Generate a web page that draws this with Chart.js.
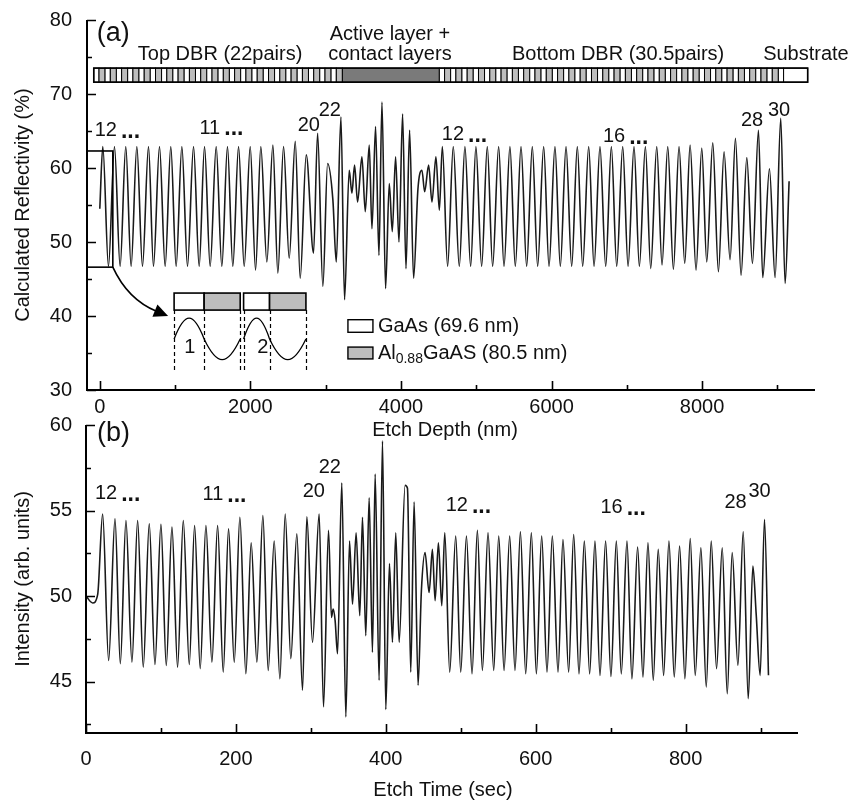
<!DOCTYPE html>
<html>
<head>
<meta charset="utf-8">
<script src="https://cdn.jsdelivr.net/npm/chart.js@4.4.0/dist/chart.umd.min.js"></script>
<style>
  html, body { margin: 0; padding: 0; background: #fff; }
  #wrap { position: relative; width: 855px; height: 801px; }
  #wrap canvas { position: absolute; left: 0; top: 0; }
</style>
</head>
<body>
<div id="wrap">
  <canvas id="reflect" width="855" height="801"></canvas>
  <canvas id="etch" width="855" height="801"></canvas>
</div>
<script>
const FONT = '"Liberation Sans", Arial, Helvetica, sans-serif';
Chart.defaults.font.family = FONT;
Chart.defaults.color = '#111';

// (a) calculated reflectivity, turning points of the fringes
const depthNm = [0, 40, 115, 195, 270, 345, 416, 492, 567, 647, 713, 793, 868, 943, 1014, 1090,
  1165, 1245, 1320, 1391, 1466, 1546, 1621, 1696, 1767, 1843, 1918, 1998, 2069, 2139, 2219,
  2299, 2365, 2441, 2516, 2596, 2662, 2742, 2839, 2893, 2963, 3026, 3096, 3141, 3203, 3251,
  3313, 3349, 3384, 3424, 3482, 3526, 3579, 3615, 3663, 3708, 3748, 3796, 3845, 3885, 3929,
  3974, 4022, 4067, 4115, 4168, 4226, 4279, 4315, 4368, 4412, 4465, 4510, 4550, 4620, 4695,
  4775, 4850, 4926, 4996, 5072, 5147, 5218, 5298, 5369, 5448, 5519, 5595, 5670, 5745, 5816,
  5896, 5967, 6046, 6117, 6193, 6268, 6343, 6414, 6494, 6565, 6644, 6720, 6795, 6866, 6946,
  7017, 7096, 7167, 7247, 7318, 7398, 7468, 7544, 7619, 7694, 7770, 7841, 7920, 7996, 8062,
  8142, 8217, 8292, 8372, 8443, 8518, 8594, 8669, 8749, 8806, 8895, 8970, 9045, 9103, 9156];
const reflectivity = [54.5, 62.9, 46.7, 62.9, 46.7, 62.9, 46.7, 62.9, 46.7, 62.9, 46.7, 62.9, 46.7, 62.9, 46.7, 62.9,
  46.7, 62.9, 46.7, 62.9, 46.7, 62.9, 46.7, 62.9, 46.7, 62.9, 46.7, 62.9, 46.2, 62.9, 47.3,
  63.1, 45.8, 62.9, 47.8, 63.6, 45.1, 61.8, 48.5, 64.7, 44.0, 60.6, 55.7, 47.3, 66.9, 42.2,
  59.7, 56.6, 60.4, 55.4, 61.5, 54.1, 63.1, 51.8, 65.6, 48.2, 68.9, 43.7, 57.9, 51.4, 61.5,
  50.0, 67.3, 46.4, 65.1, 45.1, 57.2, 59.7, 56.8, 60.4, 55.4, 61.5, 54.3, 62.9, 46.7, 62.9,
  46.7, 62.9, 46.7, 62.9, 46.7, 62.9, 46.7, 62.9, 46.7, 62.9, 46.7, 62.9, 46.7, 62.9, 46.7,
  62.9, 46.7, 62.9, 46.7, 62.9, 46.7, 62.9, 46.7, 62.9, 46.7, 62.9, 46.7, 62.9, 46.7, 62.9,
  46.7, 62.9, 46.7, 62.9, 46.4, 62.9, 46.9, 62.9, 46.3, 62.9, 47.1, 63.1, 46.2, 62.7, 47.3,
  63.4, 46.0, 62.2, 47.6, 64.0, 45.5, 61.4, 47.1, 65.1, 45.2, 59.9, 45.2, 66.7, 44.4, 58.2];

// (b) measured intensity during etching
const etchSec = [0, 8.9, 15.6, 22.2, 30.2, 38.7, 45.8, 53.3, 61.3, 68.9, 76.4, 84.4, 92.0, 100.0,
  107.1, 114.7, 122.2, 129.8, 137.8, 144.9, 152.4, 160.0, 168.0, 175.6, 183.1, 190.2, 197.8,
  205.3, 213.3, 220.4, 228.0, 236.0, 243.1, 251.1, 258.7, 265.8, 273.3, 281.3, 288.9, 294.7,
  302.2, 311.1, 316.9, 323.6, 327.5, 329.8, 332.4, 335.6, 341.3, 346.7, 351.6, 355.6, 360.4,
  365.3, 368.9, 373.3, 377.8, 382.2, 385.8, 391.1, 395.6, 400.0, 404.9, 408.9, 413.3, 417.8,
  425.8, 428.9, 433.3, 437.8, 443.1, 447.5, 452.4, 457.8, 462.2, 465.8, 470.2, 474.7, 478.7,
  485.3, 493.3, 500.0, 507.6, 515.1, 522.2, 528.9, 536.4, 544.0, 550.7, 557.8, 565.3, 572.4,
  579.6, 586.7, 594.2, 600.9, 608.0, 615.1, 622.2, 629.8, 636.4, 644.0, 650.7, 657.8, 664.9,
  672.0, 679.1, 685.8, 693.3, 700.4, 707.6, 714.2, 721.8, 728.4, 736.0, 743.1, 749.8, 756.9,
  763.5, 770.7, 777.8, 784.9, 792.0, 799.1, 806.2, 812.9, 820.4, 827.6, 834.2, 841.3, 848.9,
  855.6, 862.2, 869.8, 876.9, 883.6, 889.8, 894.2, 899.5, 905.3, 910.6];
const intensity = [50.0, 49.6, 50.1, 54.8, 46.24, 54.52, 46.05, 54.42, 46.14, 54.42, 45.85, 54.22, 46.01, 54.19,
  45.95, 54.03, 45.85, 54.42, 46.01, 54.13, 45.76, 54.13, 46.14, 54.13, 45.56, 53.93, 46.14,
  54.61, 45.46, 53.12, 46.14, 54.71, 45.66, 53.22, 45.17, 54.80, 46.34, 53.64, 44.50, 54.63,
  47.30, 54.80, 43.53, 53.84, 48.76, 49.24, 48.57, 46.63, 56.61, 42.94, 53.22, 49.53, 53.70,
  48.86, 54.61, 47.69, 55.74, 46.72, 57.13, 45.08, 59.07, 43.37, 51.90, 47.30, 53.70, 47.30,
  56.47, 56.30, 45.56, 55.50, 44.79, 50.31, 52.54, 50.21, 52.73, 49.73, 53.12, 49.44, 53.70,
  45.56, 53.51, 45.56, 53.51, 45.46, 53.84, 45.66, 53.70, 45.66, 53.51, 45.66, 53.51, 45.66,
  53.76, 45.46, 53.70, 45.46, 53.51, 45.56, 53.51, 45.56, 53.31, 45.56, 53.60, 45.46, 53.22,
  45.46, 53.22, 45.37, 53.22, 45.31, 53.22, 45.46, 53.22, 45.17, 52.87, 45.27, 53.12, 45.08,
  52.73, 45.37, 53.22, 45.27, 52.93, 45.17, 53.37, 45.37, 52.83, 44.69, 53.22, 45.76, 52.83,
  44.30, 52.54, 45.95, 53.76, 44.01, 51.76, 48.95, 45.37, 54.48, 45.37];

// tick positions; every other one carries a number
const depthTicks = [0, 1000, 2000, 3000, 4000, 5000, 6000, 7000, 8000, 9000];
const reflTicks = [30, 35, 40, 45, 50, 55, 60, 65, 70, 75, 80];
const timeTicks = [0, 100, 200, 300, 400, 500, 600, 700, 800, 900];
const intensityTicks = [42.5, 45, 47.5, 50, 52.5, 55, 57.5, 60];

// epitaxial structure (nm)
const gaAsNm = 69.6;
const alGaAsNm = 80.5;
const topDbrPairs = 22;
const bottomDbrPairs = 30.5;
const activeNm = 1288;
const substrateNm = 320;
const stackStartNm = -80;

// pair numbers written above the fringes: [text, x, y, followed by dots]
const pairTagsA = [['12', 80, 65.1, true], ['11', 1462, 65.4, true], ['20', 2777, 65.8, false],
  ['22', 3056, 67.8, false], ['12', 4691, 64.5, true], ['16', 6831, 64.2, true],
  ['28', 8664, 66.4, false], ['30', 9023, 67.8, false]];
const pairTagsB = [['12', 26.7, 55.99, true], ['11', 169.3, 55.93, true], ['20', 304, 56.1, false],
  ['22', 325.3, 57.5, false], ['12', 494.7, 55.29, true], ['16', 701.3, 55.17, true],
  ['28', 866.7, 55.47, false], ['30', 898.7, 56.1, false]];

const LINE = '#1a1a1a';
const LIGHT_GRAY = '#bdbdbd';
const DARK_GRAY = '#7a7a7a';

function text(ctx, s, x, y, size, align, weight) {
  ctx.font = (weight || 'normal') + ' ' + size + 'px ' + FONT;
  ctx.textAlign = align || 'left';
  ctx.textBaseline = 'middle';
  ctx.fillStyle = '#111';
  ctx.fillText(s, x, y);
}

// axis lines, inward ticks and the numbers under the major ones
function drawAxes(chart) {
  const {ctx, chartArea: a, scales: {x, y}} = chart;
  const ax = chart.options.axisLook;
  ctx.save();
  ctx.strokeStyle = '#000';
  ctx.lineWidth = 2;
  ctx.beginPath();
  ctx.moveTo(a.left, a.top);
  ctx.lineTo(a.left, a.bottom);
  ctx.lineTo(a.right, a.bottom);
  ctx.stroke();
  ctx.lineWidth = 1.6;
  ctx.beginPath();
  x.ticks.forEach((t, i) => {
    const px = Math.round(x.getPixelForValue(t.value)) + 0.5;
    ctx.moveTo(px, a.bottom);
    ctx.lineTo(px, a.bottom - (i % 2 === ax.xMajorOdd ? 9 : 5));
  });
  y.ticks.forEach((t, i) => {
    const py = Math.round(y.getPixelForValue(t.value)) + 0.5;
    ctx.moveTo(a.left, py);
    ctx.lineTo(a.left + (i % 2 === ax.yMajorOdd ? 9 : 5), py);
  });
  ctx.stroke();
  ctx.restore();
  x.ticks.forEach((t, i) => {
    if (i % 2 === ax.xMajorOdd) {
      text(ctx, String(t.value), x.getPixelForValue(t.value), a.bottom + ax.xGap, 20, 'center');
    }
  });
  y.ticks.forEach((t, i) => {
    if (i % 2 === ax.yMajorOdd) {
      text(ctx, String(t.value), a.left - ax.yGap, y.getPixelForValue(t.value), 20, 'right');
    }
  });
}

function drawTags(chart, tags) {
  const {ctx, scales: {x, y}} = chart;
  tags.forEach(([s, vx, vy, dots]) => {
    const px = x.getPixelForValue(vx), py = y.getPixelForValue(vy);
    text(ctx, s, px, py, 20, 'center');
    if (dots) {
      const w = ctx.measureText(s).width;
      text(ctx, '...', px + w / 2 + 4, py + 1, 23, 'left', 'bold');
    }
  });
}

function drawStack(chart) {
  const {ctx, scales: {x, y}} = chart;
  const top = y.getPixelForValue(73.5), bot = y.getPixelForValue(71.6);
  const rect = (from, to, fill) => {
    const l = x.getPixelForValue(from), r = x.getPixelForValue(to);
    ctx.fillStyle = fill;
    ctx.fillRect(l, top, r - l, bot - top);
    ctx.strokeRect(l, top, r - l, bot - top);
  };
  ctx.save();
  ctx.strokeStyle = '#000';
  ctx.lineWidth = 1;
  let pos = stackStartNm;
  const dbr = pairs => {
    for (let i = 0; i < pairs * 2; i++) {
      const w = i % 2 === 0 ? gaAsNm : alGaAsNm;
      rect(pos, pos + w, i % 2 === 0 ? '#fff' : LIGHT_GRAY);
      pos += w;
    }
  };
  const start = pos;
  dbr(topDbrPairs);
  rect(pos, pos + activeNm, DARK_GRAY);
  pos += activeNm;
  dbr(bottomDbrPairs);
  rect(pos, pos + substrateNm, '#fff');
  pos += substrateNm;
  ctx.lineWidth = 1.6;
  ctx.strokeRect(x.getPixelForValue(start), top, x.getPixelForValue(pos) - x.getPixelForValue(start), bot - top);
  ctx.restore();

  text(ctx, 'Top DBR (22pairs)', x.getPixelForValue(505), y.getPixelForValue(75.3), 20);
  text(ctx, 'Active layer +', x.getPixelForValue(3854), y.getPixelForValue(78.0), 20, 'center');
  text(ctx, 'contact layers', x.getPixelForValue(3854), y.getPixelForValue(75.3), 20, 'center');
  text(ctx, 'Bottom DBR (30.5pairs)', x.getPixelForValue(5475), y.getPixelForValue(75.3), 20);
  text(ctx, 'Substrate', x.getPixelForValue(8811), y.getPixelForValue(75.3), 20);
}

// zoomed sketch of the first two pairs with the matching fringe
function drawInset(chart) {
  const {ctx, scales: {x, y}} = chart;
  const X = v => x.getPixelForValue(v), Y = v => y.getPixelForValue(v);
  ctx.save();
  ctx.strokeStyle = '#000';
  ctx.lineWidth = 1.6;

  // frame around the first fringe
  ctx.strokeRect(X(-170), Y(62.3), X(173) - X(-170), Y(46.6) - Y(62.3));

  // curved pointer
  const sx = X(173), sy = Y(46.6);
  const cx = X(372), cy = Y(42.2);
  const ex = X(760), ey = Y(40.6);
  ctx.beginPath();
  ctx.moveTo(sx, sy);
  ctx.quadraticCurveTo(cx, cy, ex, ey);
  ctx.stroke();
  const ang = Math.atan2(ey - cy, ex - cx);
  const tipX = ex + Math.cos(ang) * 12, tipY = ey + Math.sin(ang) * 12;
  ctx.fillStyle = '#000';
  ctx.beginPath();
  ctx.moveTo(tipX, tipY);
  ctx.lineTo(ex + Math.cos(ang + 1.9) * 7, ey + Math.sin(ang + 1.9) * 7);
  ctx.lineTo(ex + Math.cos(ang - 1.9) * 7, ey + Math.sin(ang - 1.9) * 7);
  ctx.closePath();
  ctx.fill();

  // two pairs of layers
  const edges = [987, 1386, 1865, 1910, 2255, 2738];
  const boxTop = Y(43.1), boxBot = Y(40.8);
  [[0, 1, '#fff'], [1, 2, LIGHT_GRAY], [3, 4, '#fff'], [4, 5, LIGHT_GRAY]].forEach(([a, b, f]) => {
    ctx.fillStyle = f;
    ctx.fillRect(X(edges[a]), boxTop, X(edges[b]) - X(edges[a]), boxBot - boxTop);
    ctx.strokeRect(X(edges[a]), boxTop, X(edges[b]) - X(edges[a]), boxBot - boxTop);
  });

  // dashed guides
  ctx.lineWidth = 1.2;
  ctx.setLineDash([4, 3]);
  ctx.beginPath();
  edges.forEach(e => {
    ctx.moveTo(Math.round(X(e)) + 0.5, boxBot);
    ctx.lineTo(Math.round(X(e)) + 0.5, Y(32.7));
  });
  ctx.stroke();
  ctx.setLineDash([]);

  // fringe sketch: half waves up over GaAs, down over AlGaAs
  const mid = Y(36.9), k = (Y(39.7) - mid) * 4 / 3;
  ctx.lineWidth = 1.3;
  ctx.beginPath();
  [[0, 1, 1], [1, 2, -1], [3, 4, 1], [4, 5, -1]].forEach(([a, b, sgn], i) => {
    const l = X(edges[a]), r = X(edges[b]), h = r - l;
    if (i === 0 || i === 2) ctx.moveTo(l, mid);
    ctx.bezierCurveTo(l + 0.3642 * h, mid + sgn * k, l + 0.6358 * h, mid + sgn * k, r, mid);
  });
  ctx.stroke();
  ctx.restore();

  text(ctx, '1', X(1196), Y(35.7), 20, 'center');
  text(ctx, '2', X(2166), Y(35.7), 20, 'center');

  // material key
  ctx.save();
  ctx.strokeStyle = '#000';
  ctx.lineWidth = 1.4;
  [[39.5, 37.8, '#fff'], [35.8, 34.2, LIGHT_GRAY]].forEach(([t, b, f]) => {
    ctx.fillStyle = f;
    ctx.fillRect(X(3296), Y(t), X(3628) - X(3296), Y(b) - Y(t));
    ctx.strokeRect(X(3296), Y(t), X(3628) - X(3296), Y(b) - Y(t));
  });
  ctx.restore();
  const lx = X(3694);
  text(ctx, 'GaAs (69.6 nm)', lx, Y(38.6), 20);
  const ly = Y(35.0);
  text(ctx, 'Al', lx, ly, 20);
  let w = ctx.measureText('Al').width;
  text(ctx, '0.88', lx + w, ly + 6, 14);
  w += ctx.measureText('0.88').width;
  text(ctx, 'GaAS (80.5 nm)', lx + w, ly, 20);
}

function axisTitles(chart, xTitle, yTitle, xOff, yTitleX) {
  const {ctx, chartArea: a} = chart;
  text(ctx, xTitle, (a.left + a.right) / 2 + xOff[0], a.bottom + xOff[1], 20, 'center');
  ctx.save();
  ctx.translate(yTitleX, (a.top + a.bottom) / 2);
  ctx.rotate(-Math.PI / 2);
  text(ctx, yTitle, 0, 0, 20, 'center');
  ctx.restore();
}

const reflectDecor = {
  id: 'reflectDecor',
  afterDraw(chart) {
    const {ctx, scales: {x, y}} = chart;
    drawAxes(chart);
    drawStack(chart);
    drawInset(chart);
    drawTags(chart, pairTagsA);
    text(ctx, '(a)', x.getPixelForValue(-40), y.getPixelForValue(78.2), 27);
    axisTitles(chart, 'Etch Depth (nm)', 'Calculated Reflectivity (%)', [-6, 40], 23);
  }
};

const etchDecor = {
  id: 'etchDecor',
  afterDraw(chart) {
    const {ctx, scales: {x, y}} = chart;
    drawAxes(chart);
    drawTags(chart, pairTagsB);
    text(ctx, '(b)', x.getPixelForValue(14.7), y.getPixelForValue(59.5), 27);
    axisTitles(chart, 'Etch Time (sec)', 'Intensity (arb. units)', [1, 57], 23);
  }
};

function options(xr, xTicks, yr, yTicks, pad, yWidth, xHeight, look) {
  return {
    responsive: false,
    animation: false,
    axisLook: look,
    layout: {padding: pad},
    plugins: {legend: {display: false}, tooltip: {enabled: false}},
    elements: {point: {radius: 0}},
    scales: {
      x: {
        type: 'linear', min: xr[0], max: xr[1],
        grid: {display: false}, border: {display: false},
        ticks: {display: false},
        afterBuildTicks: s => { s.ticks = xTicks.map(v => ({value: v})); },
        afterFit: s => { s.height = xHeight; }
      },
      y: {
        type: 'linear', min: yr[0], max: yr[1],
        grid: {display: false}, border: {display: false},
        ticks: {display: false},
        afterBuildTicks: s => { s.ticks = yTicks.map(v => ({value: v})); },
        afterFit: s => { s.width = yWidth; }
      }
    }
  };
}

function series(xs, ys) {
  return {
    data: xs.map((v, i) => ({x: v, y: ys[i]})),
    borderColor: LINE,
    borderWidth: 1.6,
    cubicInterpolationMode: 'monotone',
    pointRadius: 0,
    fill: false
  };
}

new Chart(document.getElementById('reflect'), {
  type: 'line',
  data: {datasets: [series(depthNm, reflectivity)]},
  options: options([-170, 9500], depthTicks, [30, 80], reflTicks,
    {top: 20, right: 40, left: 0, bottom: 0}, 87, 411,
    {xMajorOdd: 0, yMajorOdd: 0, xGap: 17, yGap: 15}),
  plugins: [reflectDecor]
});

new Chart(document.getElementById('etch'), {
  type: 'line',
  data: {datasets: [series(etchSec, intensity)]},
  options: options([0, 950], timeTicks, [42, 60], intensityTicks,
    {top: 425, right: 57, left: 0, bottom: 0}, 86, 68,
    {xMajorOdd: 0, yMajorOdd: 1, xGap: 26, yGap: 14}),
  plugins: [etchDecor]
});
</script>
</body>
</html>
